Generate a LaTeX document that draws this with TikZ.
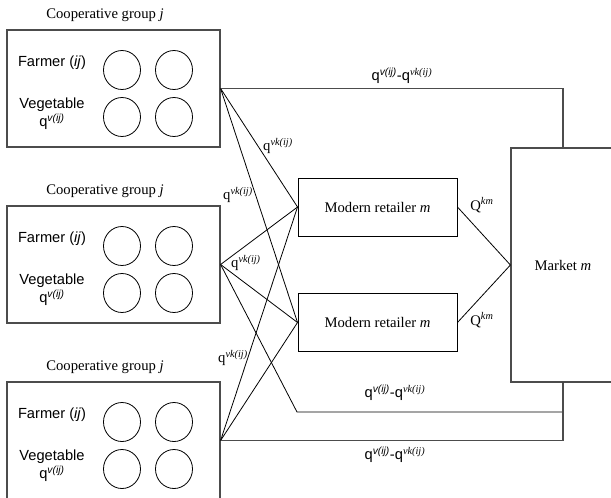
\documentclass[tikz,border=0pt]{standalone}
\usepackage{fontspec}
\setmainfont{Liberation Serif}
\setsansfont{Liberation Sans}
\usetikzlibrary{shapes.geometric}

\newcommand{\qvk}{q\textsuperscript{\textit{vk(ij)}}}
\newcommand{\qdiff}{\sffamily q\textsuperscript{\textit{v(ij)}}-q\textsuperscript{\rmfamily\textit{vk(ij)}}}

\begin{document}
\fontsize{11}{13.5}\selectfont
\begin{tikzpicture}[x=0.75pt,y=-0.75pt,
  group/.style={draw=black!70,line width=0.9pt,minimum width=159.75pt,minimum height=87.75pt},
  retail/.style={draw,line width=0.7pt,minimum width=119.25pt,minimum height=43.5pt},
  market/.style={draw=black!70,line width=0.9pt,minimum width=78pt,minimum height=175.5pt},
  farm/.style={draw,ellipse,line width=0.6pt,minimum width=27.75pt,minimum height=29.25pt,inner sep=0pt},
  flow/.style={line width=0.6pt},
  outflow/.style={draw=black!70,line width=0.9pt},
  lab/.style={inner sep=1pt}]
\useasboundingbox (0,0) rectangle (611,497);

% cooperative groups
\foreach \n/\y in {1/30,2/206,3/382} {
  \node[group] (g\n) at (113.5,\y+58.5) {};
  \node (t\n) at (105,\y-15) {Cooperative group \textit{j}};
  \node[font=\sffamily] (fa\n) at (52,\y+33) {Farmer (\textit{ij})};
  \node[font=\sffamily,align=center] (ve\n) at (52,\y+84) {Vegetable\\q\textsuperscript{\textit{v(ij)}}};
  \node[farm] (fa\n a) at (122,\y+40) {};
  \node[farm] (fa\n b) at (174,\y+40) {};
  \node[farm] (fa\n c) at (122,\y+87) {};
  \node[farm] (fa\n d) at (174,\y+87) {};
}

% retailers and market
\node[retail] (r1) at (377.5,207) {Modern retailer \textit{m}};
\node[retail] (r2) at (377.5,322.5) {Modern retailer \textit{m}};
\node[market] (mk) at (563,265) {Market \textit{m}};
\coordinate (c2) at (297,412);

% flows
\foreach \g in {1,2,3}
  \foreach \r in {1,2}
    \draw[flow] (g\g.east) -- (r\r.west);
\draw[flow] (r1.east) -- (mk.west);
\draw[flow] (r2.east) -- (mk.west);
\draw[outflow] (g1.east) -| (mk.north);
\draw[flow] (g2.east) -- (c2) -| (mk.south);
\draw[outflow] (g3.east) -| (mk.south);

% labels
\node[lab] (d1) at (402,76) {\qdiff};
\node[lab] (d2) at (395,393) {\qdiff};
\node[lab] (d3) at (395,455) {\qdiff};
\node[lab] (k1) at (278,146) {\qvk};
\node[lab] (k2) at (238,195) {\qvk};
\node[lab] (k3) at (246,263) {\qvk};
\node[lab] (k4) at (233,358) {\qvk};
\node[lab] (m1) at (482,205) {Q\textsuperscript{\textit{km}}};
\node[lab] (m2) at (482,320) {Q\textsuperscript{\textit{km}}};
\end{tikzpicture}
\end{document}
